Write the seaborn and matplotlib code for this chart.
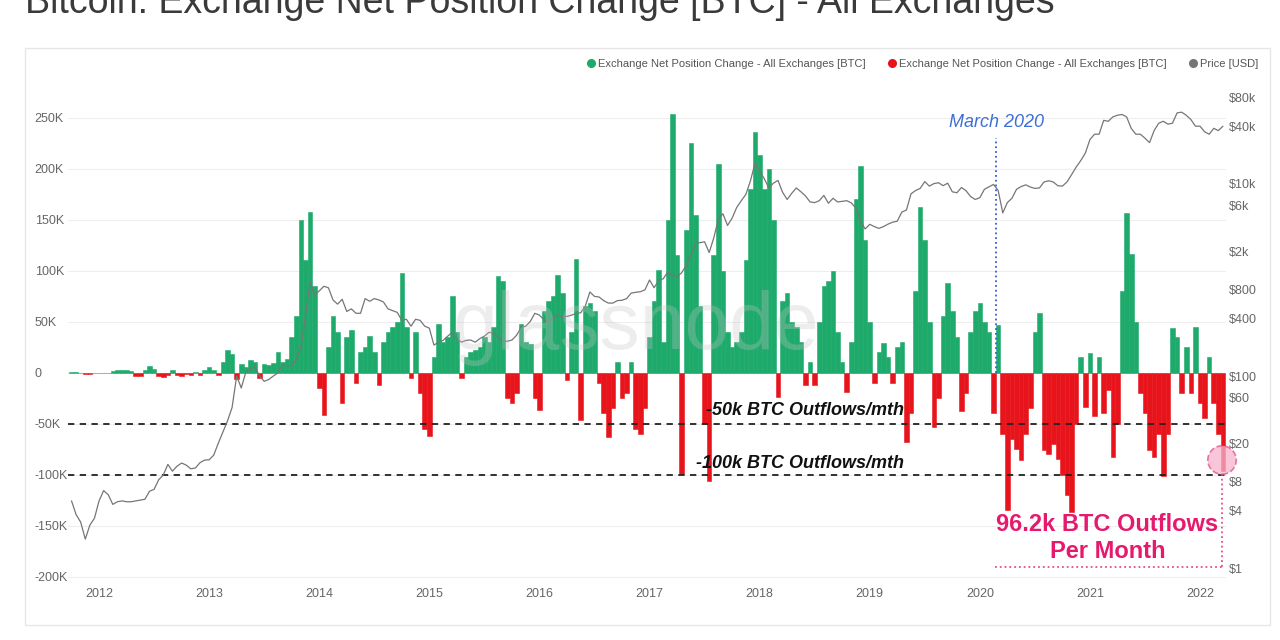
import numpy as np
import pandas as pd
import matplotlib
matplotlib.use("Agg")
import matplotlib.pyplot as plt
import seaborn as sns
from matplotlib.lines import Line2D
from matplotlib.patches import Rectangle
from matplotlib.ticker import FixedLocator, FuncFormatter, NullLocator

# ---------------- data (semi-monthly samples, starting Oct 2011) ----------------
START = 2011.75
STEP = 1 / 24

# Exchange net position change, thousands of BTC
flow_2011 = [0.8, 0.8, 0, -1.2, -1.2, 0]
flow_2012 = [0, 0, 0, 1.5, 2, 2, 2, 1.5, -3, -3, 2, 6, 3, -3, -4, -2, 2, -2, -3, -1, -2, 1, -2, 2]
flow_2013 = [5, 2, -2, 10, 22, 18, -6, 8, 5, 12, 10, -5, 8, 7, 9, 20, 10, 13, 35, 55, 150, 110, 157, 85]
flow_2014 = [-15, -42, 25, 55, 40, -30, 35, 42, -10, 20, 25, 36, 20, -12, 30, 40, 45, 50, 98, 45, -5, 40, -20, -55]
flow_2015 = [-62, 15, 48, 30, 35, 75, 40, -5, 15, 20, 22, 25, 35, 30, 45, 95, 90, -25, -30, -20, 48, 30, 28, -25]
flow_2016 = [-37, 60, 70, 75, 96, 78, -7, 40, 111, -47, 65, 68, 60, -10, -40, -63, -35, 10, -25, -20, 10, -55, -60, -35]
flow_2017 = [35, 70, 101, 30, 150, 253, 115, -99, 140, 225, 154, 65, -50, -106, 115, 204, 100, 40, 25, 30, 40, 110, 180, 236]
flow_2018 = [213, 180, 200, 150, -24, 70, 78, 50, 45, 30, -12, 10, -12, 50, 85, 90, 100, 40, 10, -19, 30, 170, 202, 130]
flow_2019 = [50, -10, 20, 29, 15, -10, 25, 30, -68, -40, 80, 162, 130, 50, -53, -25, 55, 88, 60, 35, -38, -20, 40, 60]
flow_2020 = [68, 50, 40, -40, 47, -60, -135, -65, -75, -86, -60, -35, 40, 58, -76, -80, -70, -85, -100, -120, -137, -50, 15, -34]
flow_2021 = [19, -43, 15, -40, -17, -83, -50, 80, 156, 116, 50, -20, -40, -76, -83, -60, -101, -60, 44, 35, -20, 25, -20, 45]
flow_2022 = [-30, -45, 15, -30, -60, -96.2]

# BTC price, USD
price_2011 = [5.0, 3.6, 3.0, 2.0, 2.8, 3.3]
price_2012 = [5.0, 6.4, 5.8, 4.6, 4.9, 5.0, 4.9, 4.9, 5.0, 5.1, 5.2, 6.3, 6.6, 8.3, 9.3, 12.0, 10.2, 11.5, 12.4, 11.8, 10.8, 11.0, 12.5, 13.3]
price_2013 = [13.4, 15, 20, 26, 34, 47, 100, 75, 110, 118, 125, 100, 88, 92, 100, 108, 130, 128, 128, 150, 200, 420, 950, 700]
price_2014 = [770, 860, 830, 620, 560, 630, 470, 500, 450, 450, 640, 600, 640, 620, 590, 500, 480, 460, 380, 390, 330, 390, 380, 330]
price_2015 = [315, 210, 225, 235, 260, 285, 245, 225, 235, 237, 225, 245, 260, 285, 280, 255, 230, 230, 237, 265, 320, 330, 370, 450]
price_2016 = [430, 385, 370, 405, 435, 415, 418, 430, 450, 455, 535, 750, 675, 665, 610, 575, 575, 610, 615, 640, 730, 745, 755, 790]
price_2017 = [1000, 830, 990, 1030, 1220, 1120, 1080, 1190, 1420, 1780, 2400, 2450, 2500, 1930, 2740, 4300, 4900, 3700, 4400, 5700, 6700, 7800, 10800, 16500]
price_2018 = [13500, 11400, 9100, 10200, 10900, 8200, 6900, 8000, 9100, 8300, 7500, 6500, 6400, 6700, 7600, 6300, 7100, 6500, 6600, 6700, 6350, 5600, 4100, 3400]
price_2019 = [3800, 3600, 3450, 3600, 3820, 4000, 4100, 5100, 5350, 7900, 8550, 9000, 10600, 9500, 10100, 10300, 9600, 10200, 8300, 8100, 9200, 8500, 7400, 6900]
price_2020 = [7200, 8800, 9350, 9900, 8550, 5000, 6400, 7100, 8800, 9400, 9800, 9300, 9000, 9100, 10500, 10800, 10500, 9600, 9500, 10500, 12500, 15000, 17500, 21000]
price_2021 = [29000, 33000, 33000, 46000, 45000, 50000, 52000, 53000, 50000, 38000, 33000, 33000, 30000, 27000, 36000, 43000, 45000, 42000, 43000, 55000, 56000, 52000, 47000, 40000]
price_2022 = [40000, 35000, 33000, 38000, 36000, 40000]

year_ticks = list(range(2012, 2023))
flow_ticks = list(range(-200000, 250001, 50000))
price_ticks = [1, 4, 8, 20, 60, 100, 400, 800, 2000, 6000, 10000, 40000, 80000]
price_tick_labels = ["$1", "$4", "$8", "$20", "$60", "$100", "$400", "$800",
                     "$2k", "$6k", "$10k", "$40k", "$80k"]

flows = np.array(flow_2011 + flow_2012 + flow_2013 + flow_2014 + flow_2015 + flow_2016 +
                 flow_2017 + flow_2018 + flow_2019 + flow_2020 + flow_2021 + flow_2022) * 1000
prices = np.array(price_2011 + price_2012 + price_2013 + price_2014 + price_2015 + price_2016 +
                  price_2017 + price_2018 + price_2019 + price_2020 + price_2021 + price_2022)
idx = np.arange(len(flows))


def xi(year):
    """fractional year -> bar slot position"""
    return (year - START) / STEP


df = pd.DataFrame({"slot": idx, "flow": flows,
                   "dir": np.where(flows >= 0, "in", "out")})

GREEN = "#1daa6b"
RED = "#e8141b"
GRAY = "#767676"
PINK = "#e6196e"

sns.set_style("white")
plt.rcParams["font.family"] = ["Liberation Sans", "DejaVu Sans"]

W, H = 1280, 640
fig = plt.figure(figsize=(12.8, 6.4), dpi=100)
fig.patch.set_facecolor("white")

# panel frame
fig.add_artist(Rectangle((25 / W, 1 - 625 / H), (1270 - 25) / W, (625 - 48) / H,
                         transform=fig.transFigure, fill=False,
                         edgecolor="#e6e6e6", linewidth=1.0))

ax = fig.add_axes([68 / W, 60 / H, (1226 - 68) / W, 490 / H])

sns.barplot(data=df, x="slot", y="flow", hue="dir", palette={"in": GREEN, "out": RED},
            dodge=False, width=1.0, linewidth=0.4, edgecolor=None, saturation=1,
            errorbar=None, legend=False, ax=ax, zorder=2)
for patch in ax.patches:
    patch.set_edgecolor(patch.get_facecolor())

ax.set_xlim(xi(2011.718), xi(2022.236))
ax.set_ylim(-203400, 277000)
ax.set_yticks(flow_ticks)
ax.yaxis.set_major_formatter(FuncFormatter(lambda v, p: "0" if v == 0 else f"{int(v / 1000)}K"))
ax.set_xticks([xi(y) for y in year_ticks])
ax.set_xticklabels([str(y) for y in year_ticks])
ax.yaxis.grid(True, color="#eeeeee", linewidth=0.8, zorder=0)
ax.xaxis.grid(False)
ax.set_axisbelow(True)
for s in ax.spines.values():
    s.set_visible(False)
ax.tick_params(axis="both", length=0, labelsize=9, labelcolor="#666666")
ax.tick_params(axis="y", pad=24)
ax.tick_params(axis="x", pad=6)
for lbl in ax.get_yticklabels():
    lbl.set_horizontalalignment("left")
ax.set_xlabel("")
ax.set_ylabel("")

# threshold lines
for lvl in (-50000, -100000):
    ax.axhline(lvl, color="#222222", linestyle=(0, (3.5, 3)), linewidth=1.3, zorder=3)
ax.text(xi(2018.41), -36800, "-50k BTC Outflows/mth", ha="center", va="center",
        fontsize=13, fontweight="bold", fontstyle="italic", color="#111111", zorder=4)
ax.text(xi(2018.37), -88700, "-100k BTC Outflows/mth", ha="center", va="center",
        fontsize=13, fontweight="bold", fontstyle="italic", color="#111111", zorder=4)

# March 2020 marker
ax.plot([xi(2020.145)] * 2, [0, 229800], linestyle=":", color="#3b5bd6",
        linewidth=1.3, zorder=4)
ax.text(xi(2020.15), 245600, "March 2020", ha="center", va="center", fontsize=13,
        fontstyle="italic", color="#3d6fd6")

# 96.2k annotation
ax.scatter([xi(2022.2)], [-85800], s=420, facecolor="#f6b3cc", alpha=0.75,
           edgecolor="#e0508a", linestyle="--", linewidth=1.2, zorder=5, clip_on=False)
ax.plot([xi(2022.2)] * 2, [-99500, -190700], linestyle=":", color="#e0508a",
        linewidth=1.3, clip_on=False, zorder=5)
ax.plot([xi(2020.138), xi(2022.2)], [-190700, -190700], linestyle=":", color="#e0508a",
        linewidth=1.3, clip_on=False, zorder=5)
ax.text(xi(2021.16), -162500, "96.2k BTC Outflows\nPer Month", ha="center", va="center",
        fontsize=17, fontweight="bold", color=PINK, linespacing=1.22, zorder=5)

# price on log axis
ax2 = ax.twinx()
sns.lineplot(x=idx, y=prices, ax=ax2, color=GRAY, linewidth=0.9)
ax2.set_yscale("log")
ax2.set_ylim(0.75, 95300)
ax2.yaxis.set_major_locator(FixedLocator(price_ticks))
ax2.yaxis.set_minor_locator(NullLocator())
ax2.set_yticklabels(price_tick_labels)
ax2.tick_params(axis="y", length=0, labelsize=9, labelcolor="#666666", pad=2)
ax2.grid(False)
for s in ax2.spines.values():
    s.set_visible(False)
ax2.set_ylabel("")
ax2.set_xlim(ax.get_xlim())

# watermark
fig.text(636 / W, 1 - 328 / H, "glassnode", ha="center", va="center", fontsize=58,
         color="#c4c4c4", alpha=0.3, zorder=10)

# legend
handles = [Line2D([], [], marker="o", linestyle="", color=GREEN, markersize=5.5),
           Line2D([], [], marker="o", linestyle="", color=RED, markersize=5.5),
           Line2D([], [], marker="o", linestyle="", color=GRAY, markersize=5.5)]
labels = ["Exchange Net Position Change - All Exchanges [BTC]",
          "Exchange Net Position Change - All Exchanges [BTC]",
          "Price [USD]"]
leg = fig.legend(handles, labels, loc="center right", bbox_to_anchor=(1268 / W, 1 - 64 / H),
                 ncol=3, frameon=False, fontsize=8, handlelength=0.7, handletextpad=0.3,
                 columnspacing=2.0)
for txt in leg.get_texts():
    txt.set_color("#555555")

# title (cut at the top like the reference)
fig.text(25 / W, 1 - 13 / H, "Bitcoin: Exchange Net Position Change [BTC] - All Exchanges",
         ha="left", va="baseline", fontsize=27, color="#3a3a3a")

fig.savefig("out.png", dpi=100, facecolor="white")
